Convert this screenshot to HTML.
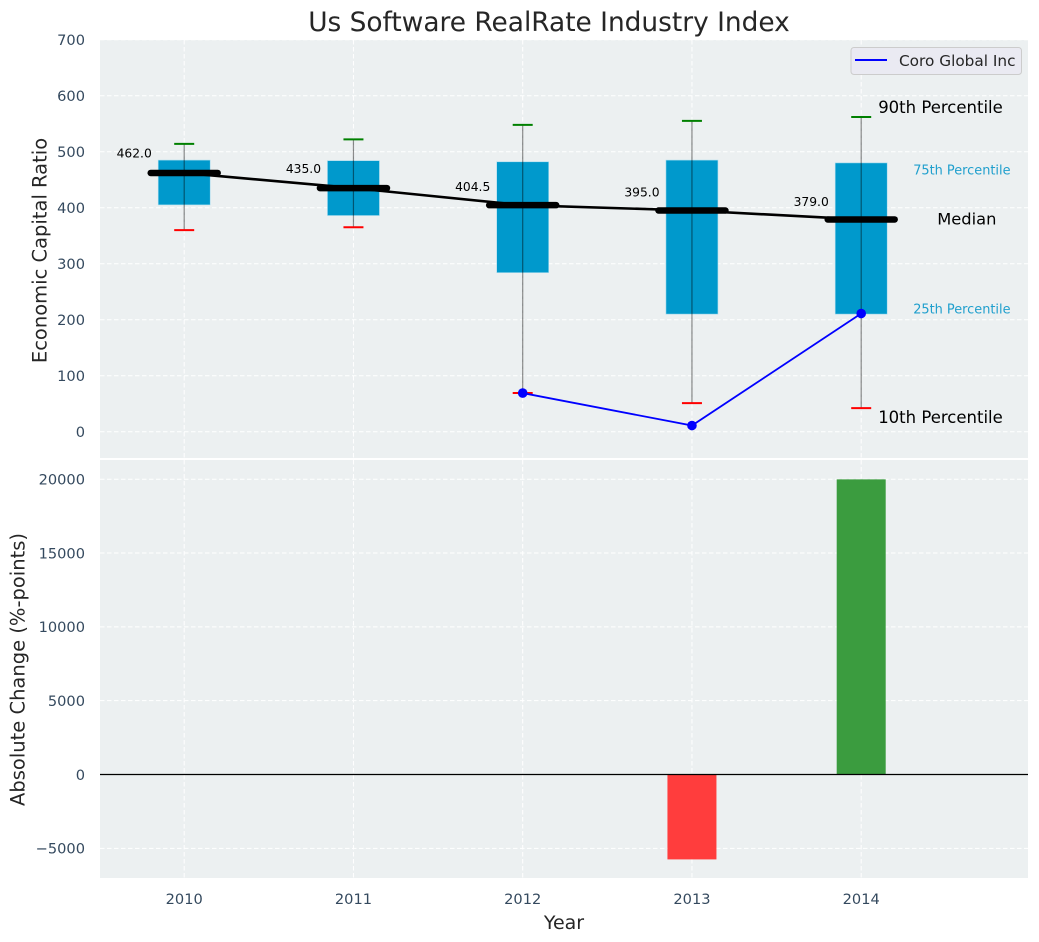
<!DOCTYPE html>
<html lang="en">
<head>
<meta charset="utf-8">
<title>Us Software RealRate Industry Index</title>
<style>
html,body{margin:0;padding:0;background:#fff;width:1039px;height:942px;overflow:hidden}
svg{display:block}
text{font-family:"DejaVu Sans","Liberation Sans",sans-serif}
</style>
</head>
<body>
<svg id="chart" xmlns="http://www.w3.org/2000/svg" width="1039" height="942" viewBox="0 0 1039 942">
  <rect x="100" y="40" width="928" height="418" fill="#ecf0f1"/>
  <rect x="100" y="460" width="928" height="418" fill="#ecf0f1"/>
  <g id="grid"></g>
  <g id="bars"></g>
  <g id="boxes"></g>
  <g id="lines"></g>
  <g id="labels"></g>
  <g id="ticks"></g>
  <text x="549" y="31" font-size="26.4" text-anchor="middle" fill="#262626">Us Software RealRate Industry Index</text>
  <text transform="translate(46.5,250.5) rotate(-90)" font-size="19.5" text-anchor="middle" fill="#262626">Economic Capital Ratio</text>
  <text transform="translate(24.5,669.5) rotate(-90)" font-size="19.5" text-anchor="middle" fill="#262626">Absolute Change (%-points)</text>
  <text x="564" y="929" font-size="19" text-anchor="middle" fill="#262626">Year</text>
  <g>
    <rect x="851" y="47.5" width="170.5" height="27" rx="3" fill="#eaeaf2" stroke="#cccccc" stroke-width="1"/>
    <line x1="855" y1="60" x2="887" y2="60" stroke="#0000ff" stroke-width="2"/>
    <text x="899" y="66" font-size="15.3" fill="#262626">Coro Global Inc</text>
  </g>
</svg>
<script>
const years = [2010, 2011, 2012, 2013, 2014];
const p90 = [514, 522, 548, 555, 562];
const p75 = [485, 484, 482, 485, 480];
const medians = [462, 435, 404.5, 395, 379];
const p25 = [405, 386, 284, 210, 210];
const p10 = [360, 365, 69, 51, 42];
const companyYears = [2012, 2013, 2014];
const companyValues = [69, 11, 211];
const changeYears = [2013, 2014];
const changeValues = [-5750, 19990];
const topTicks = [0, 100, 200, 300, 400, 500, 600, 700];
const bottomTicks = [-5000, 0, 5000, 10000, 15000, 20000];

const NS = 'http://www.w3.org/2000/svg';
const xAt = v => 184.2 + (v - 2010) * 169.25;
const yTop = v => 431.7 - v * 0.56;
const yBottom = v => 774.5 - v * 0.014765;

function mk(parent, tag, attrs, content) {
  const el = document.createElementNS(NS, tag);
  for (const k in attrs) el.setAttribute(k, attrs[k]);
  if (content !== undefined) el.textContent = content;
  parent.appendChild(el);
  return el;
}
const gGrid = document.getElementById('grid');
const gBars = document.getElementById('bars');
const gBoxes = document.getElementById('boxes');
const gLines = document.getElementById('lines');
const gLabels = document.getElementById('labels');
const gTicks = document.getElementById('ticks');
const gridStyle = {stroke: '#ffffff', 'stroke-width': 1, 'stroke-dasharray': '4.5 2.5'};
const tickColor = '#34495e';

/* grid + tick labels */
topTicks.forEach(t => {
  const y = yTop(t);
  const g = mk(gGrid, 'line', Object.assign({x1: 100, x2: 1028, y1: y, y2: y}, gridStyle));
  
  
  const l = mk(gTicks, 'text', {x: 85, y: y + 5.3, 'font-size': 14.6, 'text-anchor': 'end', fill: tickColor}, String(t));
  
  
});
bottomTicks.forEach(t => {
  const y = yBottom(t);
  const g = mk(gGrid, 'line', Object.assign({x1: 100, x2: 1028, y1: y, y2: y}, gridStyle));
  
  
  const l = mk(gTicks, 'text', {x: 85, y: y + 5.3, 'font-size': 14.6, 'text-anchor': 'end', fill: tickColor}, String(t).replace('-', '\u2212'));
  
  
});
years.forEach(yr => {
  const x = xAt(yr);
  const a = mk(gGrid, 'line', Object.assign({x1: x, x2: x, y1: 40, y2: 458}, gridStyle));
  
  
  const b = mk(gGrid, 'line', Object.assign({x1: x, x2: x, y1: 460, y2: 878}, gridStyle));
  
  
  const l = mk(gTicks, 'text', {x: x, y: 904, 'font-size': 14.6, 'text-anchor': 'middle', fill: tickColor}, String(yr));
  
  
});

/* change bars */
changeYears.forEach((yr, i) => {
  const v = changeValues[i];
  const x = xAt(yr);
  const y0 = yBottom(0), y1 = yBottom(v);
  const r = mk(gBars, 'rect', {
    x: x - 24.5, width: 49, y: Math.min(y0, y1), height: Math.abs(y1 - y0),
    fill: v < 0 ? '#ff3d3d' : '#3b9c3f'
  });
  
  
});
const zero = mk(gBars, 'line', {x1: 100, x2: 1028, y1: yBottom(0), y2: yBottom(0), stroke: '#000000', 'stroke-width': 1.3});



/* boxes, whiskers, caps */
years.forEach((yr, i) => {
  const x = xAt(yr);
  const top = yTop(p75[i]), bottom = yTop(p25[i]);
  const box = mk(gBoxes, 'rect', {x: x - 26, width: 52, y: top, height: bottom - top, fill: '#0099cc', stroke: '#a9dcee', 'stroke-width': 0.6});
  
  
  const w = mk(gBoxes, 'line', {x1: x, x2: x, y1: yTop(p90[i]), y2: yTop(p10[i]), stroke: '#000000', 'stroke-opacity': 0.45, 'stroke-width': 1.2});
  
  
  const c1 = mk(gBoxes, 'line', {x1: x - 10, x2: x + 10, y1: yTop(p90[i]), y2: yTop(p90[i]), stroke: '#008000', 'stroke-width': 2});
  
  
  const c2 = mk(gBoxes, 'line', {x1: x - 10, x2: x + 10, y1: yTop(p10[i]), y2: yTop(p10[i]), stroke: '#ff0000', 'stroke-width': 2});
  
  
});

/* median trend line + thick median bars */
const medianPath = mk(gLines, 'polyline', {
  points: years.map((yr, i) => xAt(yr) + ',' + yTop(medians[i])).join(' '),
  fill: 'none', stroke: '#000000', 'stroke-width': 2.6
});


years.forEach((yr, i) => {
  const x = xAt(yr), y = yTop(medians[i]);
  const m = mk(gLines, 'line', {x1: x - 33.5, x2: x + 33.5, y1: y, y2: y, stroke: '#000000', 'stroke-width': 6.5, 'stroke-linecap': 'round'});
  
  
  const t = mk(gLabels, 'text', {x: x - 32.4, y: y - (4 + 0.025 * medians[i]), 'font-size': 12.3, 'text-anchor': 'end', fill: '#000000'}, medians[i].toFixed(1));
  
  
});

/* company series */
const companyLine = mk(gLines, 'polyline', {
  points: companyYears.map((yr, i) => xAt(yr) + ',' + yTop(companyValues[i])).join(' '),
  fill: 'none', stroke: '#0000ff', 'stroke-width': 1.8
});


companyYears.forEach((yr, i) => {
  const d = mk(gLines, 'circle', {cx: xAt(yr), cy: yTop(companyValues[i]), r: 4.8, fill: '#0000ff'});
  
  
});

/* percentile annotations, anchored to the final year */
const last = years.length - 1;
const xLast = xAt(years[last]);
const a90 = mk(gLabels, 'text', {x: xLast + 17, y: yTop(p90[last]) - 4, 'font-size': 16.5, fill: '#000000'}, '90th Percentile');


const a75 = mk(gLabels, 'text', {x: xLast + 52, y: yTop(p75[last]) + 11.5, 'font-size': 12.9, fill: '#1f9fcd'}, '75th Percentile');


const aMed = mk(gLabels, 'text', {x: xLast + 76, y: yTop(medians[last]) + 5, 'font-size': 16.3, fill: '#000000'}, 'Median');


const a25 = mk(gLabels, 'text', {x: xLast + 52, y: yTop(p25[last]) - 0.5, 'font-size': 12.9, fill: '#1f9fcd'}, '25th Percentile');


const a10 = mk(gLabels, 'text', {x: xLast + 17, y: yTop(p10[last]) + 15, 'font-size': 16.5, fill: '#000000'}, '10th Percentile');


</script>
</body>
</html>
